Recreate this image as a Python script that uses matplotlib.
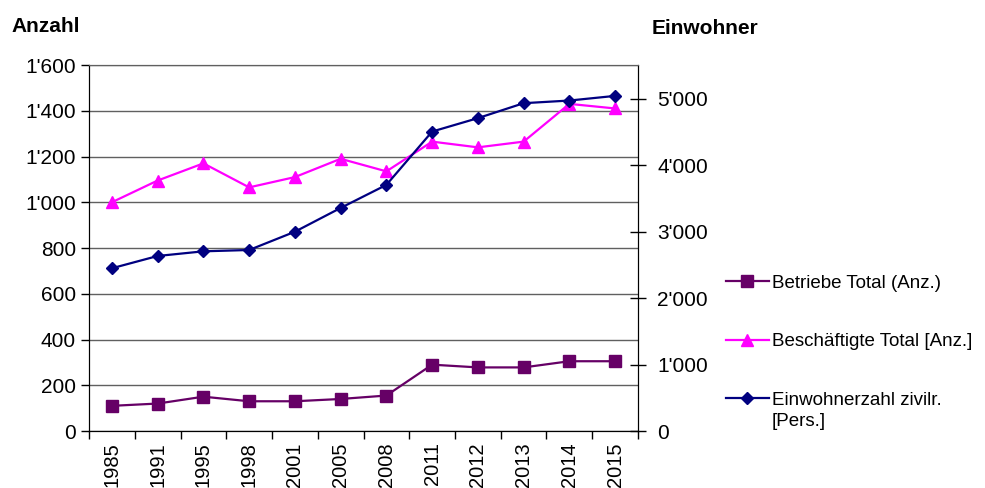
import matplotlib.pyplot as plt
from matplotlib.ticker import FuncFormatter

plt.rcParams['font.family'] = ['Liberation Sans', 'DejaVu Sans']

years = ['1985', '1991', '1995', '1998', '2001', '2005', '2008',
         '2011', '2012', '2013', '2014', '2015']
betriebe = [110, 120, 150, 130, 130, 140, 155, 290, 278, 278, 305, 305]
beschaeftigte = [1000, 1095, 1170, 1065, 1110, 1190, 1135, 1265, 1240, 1265, 1430, 1410]
einwohner = [2450, 2635, 2705, 2725, 3000, 3358, 3705, 4508, 4710, 4935, 4975, 5045]


def apos(v, pos):
    return "{:,.0f}".format(v).replace(",", "'")


fig = plt.figure(figsize=(9.85, 4.88), dpi=100)
ax = fig.add_axes([0.0904, 0.1168, 0.5573, 0.75])
ax2 = ax.twinx()

x = list(range(len(years)))
l1, = ax.plot(x, betriebe, color='#660066', lw=1.6, marker='s', ms=8.5,
              label='Betriebe Total (Anz.)')
l2, = ax.plot(x, beschaeftigte, color='#ff00ff', lw=1.6, marker='^', ms=9,
              label='Beschäftigte Total [Anz.]')
l3, = ax2.plot(x, einwohner, color='#000080', lw=1.6, marker='D', ms=6.5,
               label='Einwohnerzahl zivilr.')

ax.set_xlim(-0.5, 11.5)
ax.set_ylim(0, 1600)
ax.set_yticks(range(0, 1601, 200))
ax.yaxis.set_major_formatter(FuncFormatter(apos))
ax.grid(axis='y', color='#606060', lw=1)
ax.set_axisbelow(True)

ax2.set_ylim(0, 5510)
ax2.set_yticks(range(0, 5001, 1000))
ax2.yaxis.set_major_formatter(FuncFormatter(apos))

ax.set_xticks([i - 0.5 for i in range(len(years) + 1)])
ax.set_xticklabels([])
ax.set_xticks(x, minor=True)
ax.set_xticklabels(years, minor=True, rotation=90, fontsize=14.5)
ax.tick_params(axis='x', which='minor', length=0, pad=8)
ax.tick_params(axis='x', which='major', length=6, width=1)
ax.tick_params(axis='y', labelsize=15, length=6, width=1)
ax2.tick_params(axis='y', labelsize=15, length=12, width=1, direction='inout', pad=8)

for a in (ax, ax2):
    a.spines['top'].set_color('#606060')
    for s in ('left', 'right', 'bottom'):
        a.spines[s].set_color('black')

fig.text(0.012, 0.945, 'Anzahl', fontsize=15, fontweight='bold', va='center')
fig.text(0.662, 0.942, 'Einwohner', fontsize=15, fontweight='bold', va='center')

leg = fig.legend(handles=[l1, l2, l3], loc='upper left',
                 bbox_to_anchor=(0.729, 0.452), frameon=False, fontsize=13.5,
                 handlelength=2.3, handletextpad=0.15, labelspacing=2.2,
                 borderaxespad=0)
fig.text(0.7835, 0.137, '[Pers.]', fontsize=13.5, va='center')

plt.savefig('out.png', dpi=100)
